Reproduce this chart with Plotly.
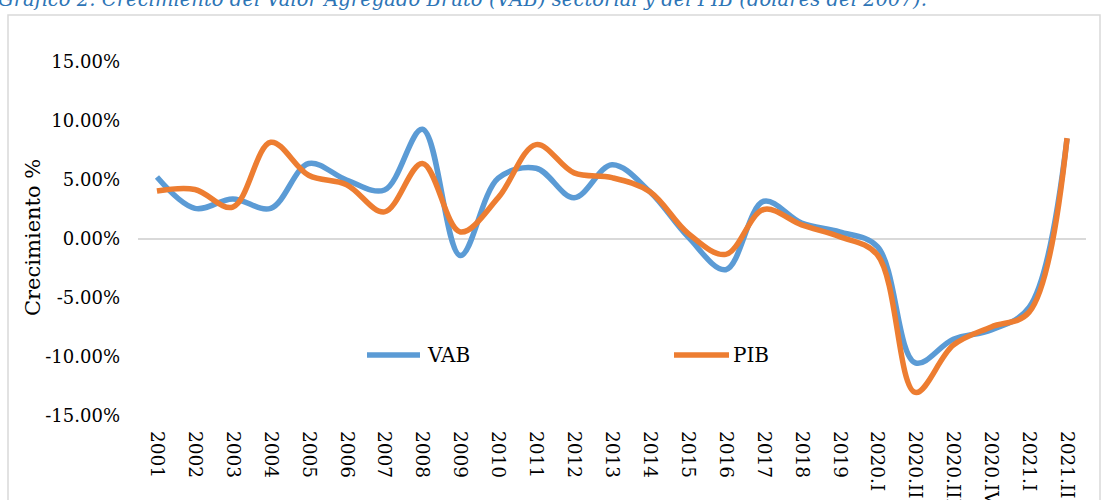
import plotly.graph_objects as go

categories = ["2001", "2002", "2003", "2004", "2005", "2006", "2007", "2008", "2009",
              "2010", "2011", "2012", "2013", "2014", "2015", "2016", "2017", "2018",
              "2019", "2020.I", "2020.II", "2020.III", "2020.IV", "2021.I", "2021.II"]
vab = [5.25, 2.6, 3.4, 2.6, 6.4, 5.0, 4.15, 9.3, -1.4, 5.15, 6.0, 3.5, 6.3, 4.0, 0.2,
       -2.6, 3.2, 1.35, 0.6, -0.65, -10.5, -8.5, -7.7, -5.8, 8.5]
pib = [4.07, 4.2, 2.7, 8.2, 5.4, 4.6, 2.3, 6.4, 0.6, 3.5, 8.0, 5.6, 5.2, 4.0, 0.5,
       -1.3, 2.5, 1.2, 0.2, -1.35, -13.0, -9.0, -7.45, -6.2, 8.55]
y_ticks = [-15, -10, -5, 0, 5, 10, 15]
y_ticktext = ["-15.00%", "-10.00%", "-5.00%", "0.00%", "5.00%", "10.00%", "15.00%"]

BLUE = "#5b9bd5"
ORANGE = "#ed7d31"
FONT = "DejaVu Serif"

# plot area in pixels
L, R, T, B = 138, 1086, 62, 416
W, H = R - L, B - T


def px(x):
    return (x - L) / W


def py(y):
    return (B - y) / H


fig = go.Figure()
fig.add_trace(go.Scatter(x=categories, y=vab, name="VAB", mode="lines",
                         line=dict(color=BLUE, width=5.5, shape="spline", smoothing=1.0)))
fig.add_trace(go.Scatter(x=categories, y=pib, name="PIB", mode="lines",
                         line=dict(color=ORANGE, width=5.5, shape="spline", smoothing=1.0)))

shapes = [
    # outer chart border
    dict(type="rect", xref="paper", yref="paper", x0=px(8), x1=px(1100), y0=py(530), y1=py(15),
         line=dict(color="#d9d9d9", width=1.5), fillcolor="rgba(0,0,0,0)", layer="below"),
    # legend samples
    dict(type="line", xref="paper", yref="paper", x0=px(367), x1=px(420), y0=py(355), y1=py(355),
         line=dict(color=BLUE, width=5.5)),
    dict(type="line", xref="paper", yref="paper", x0=px(674), x1=px(729), y0=py(355), y1=py(355),
         line=dict(color=ORANGE, width=5.5)),
]

annotations = [
    dict(text="<i>Gráfico 2. Crecimiento del Valor Agregado Bruto (VAB) sectorial y del PIB (dólares del 2007).</i>",
         xref="paper", yref="paper", x=px(-4), y=py(0), xanchor="left", yanchor="middle",
         showarrow=False, font=dict(family=FONT, size=19.6, color="#2e75b6")),
    dict(text="Crecimiento %", xref="paper", yref="paper", x=px(33), y=py(238),
         xanchor="center", yanchor="middle", textangle=-90, showarrow=False,
         font=dict(family=FONT, size=21, color="#000000")),
    dict(text="VAB", xref="paper", yref="paper", x=px(425), y=py(355), xanchor="left",
         yanchor="middle", showarrow=False, font=dict(family=FONT, size=20, color="#000000")),
    dict(text="PIB", xref="paper", yref="paper", x=px(731), y=py(355), xanchor="left",
         yanchor="middle", showarrow=False, font=dict(family=FONT, size=20, color="#000000")),
]

fig.update_layout(
    width=1105, height=500,
    margin=dict(l=L, r=1105 - R, t=T, b=500 - B, autoexpand=False),
    paper_bgcolor="white", plot_bgcolor="white",
    showlegend=False,
    shapes=shapes, annotations=annotations,
    xaxis=dict(type="category", range=[-0.5, len(categories) - 0.5], tickangle=90,
               showgrid=False, showline=False, zeroline=False, ticks="",
               ticklabelstandoff=14, automargin=False,
               tickfont=dict(family=FONT, size=18.5, color="#000000")),
    yaxis=dict(range=[-15, 15], tickvals=y_ticks, ticktext=y_ticktext,
               showgrid=False, showline=False, zeroline=True, zerolinecolor="#d9d9d9",
               zerolinewidth=1.5, ticks="", ticklabelstandoff=17, automargin=False,
               tickfont=dict(family=FONT, size=18, color="#000000")),
)

fig.write_html("out.html", config={"displayModeBar": False},
               post_script="document.body.style.margin='0';document.body.style.overflow='hidden';")
